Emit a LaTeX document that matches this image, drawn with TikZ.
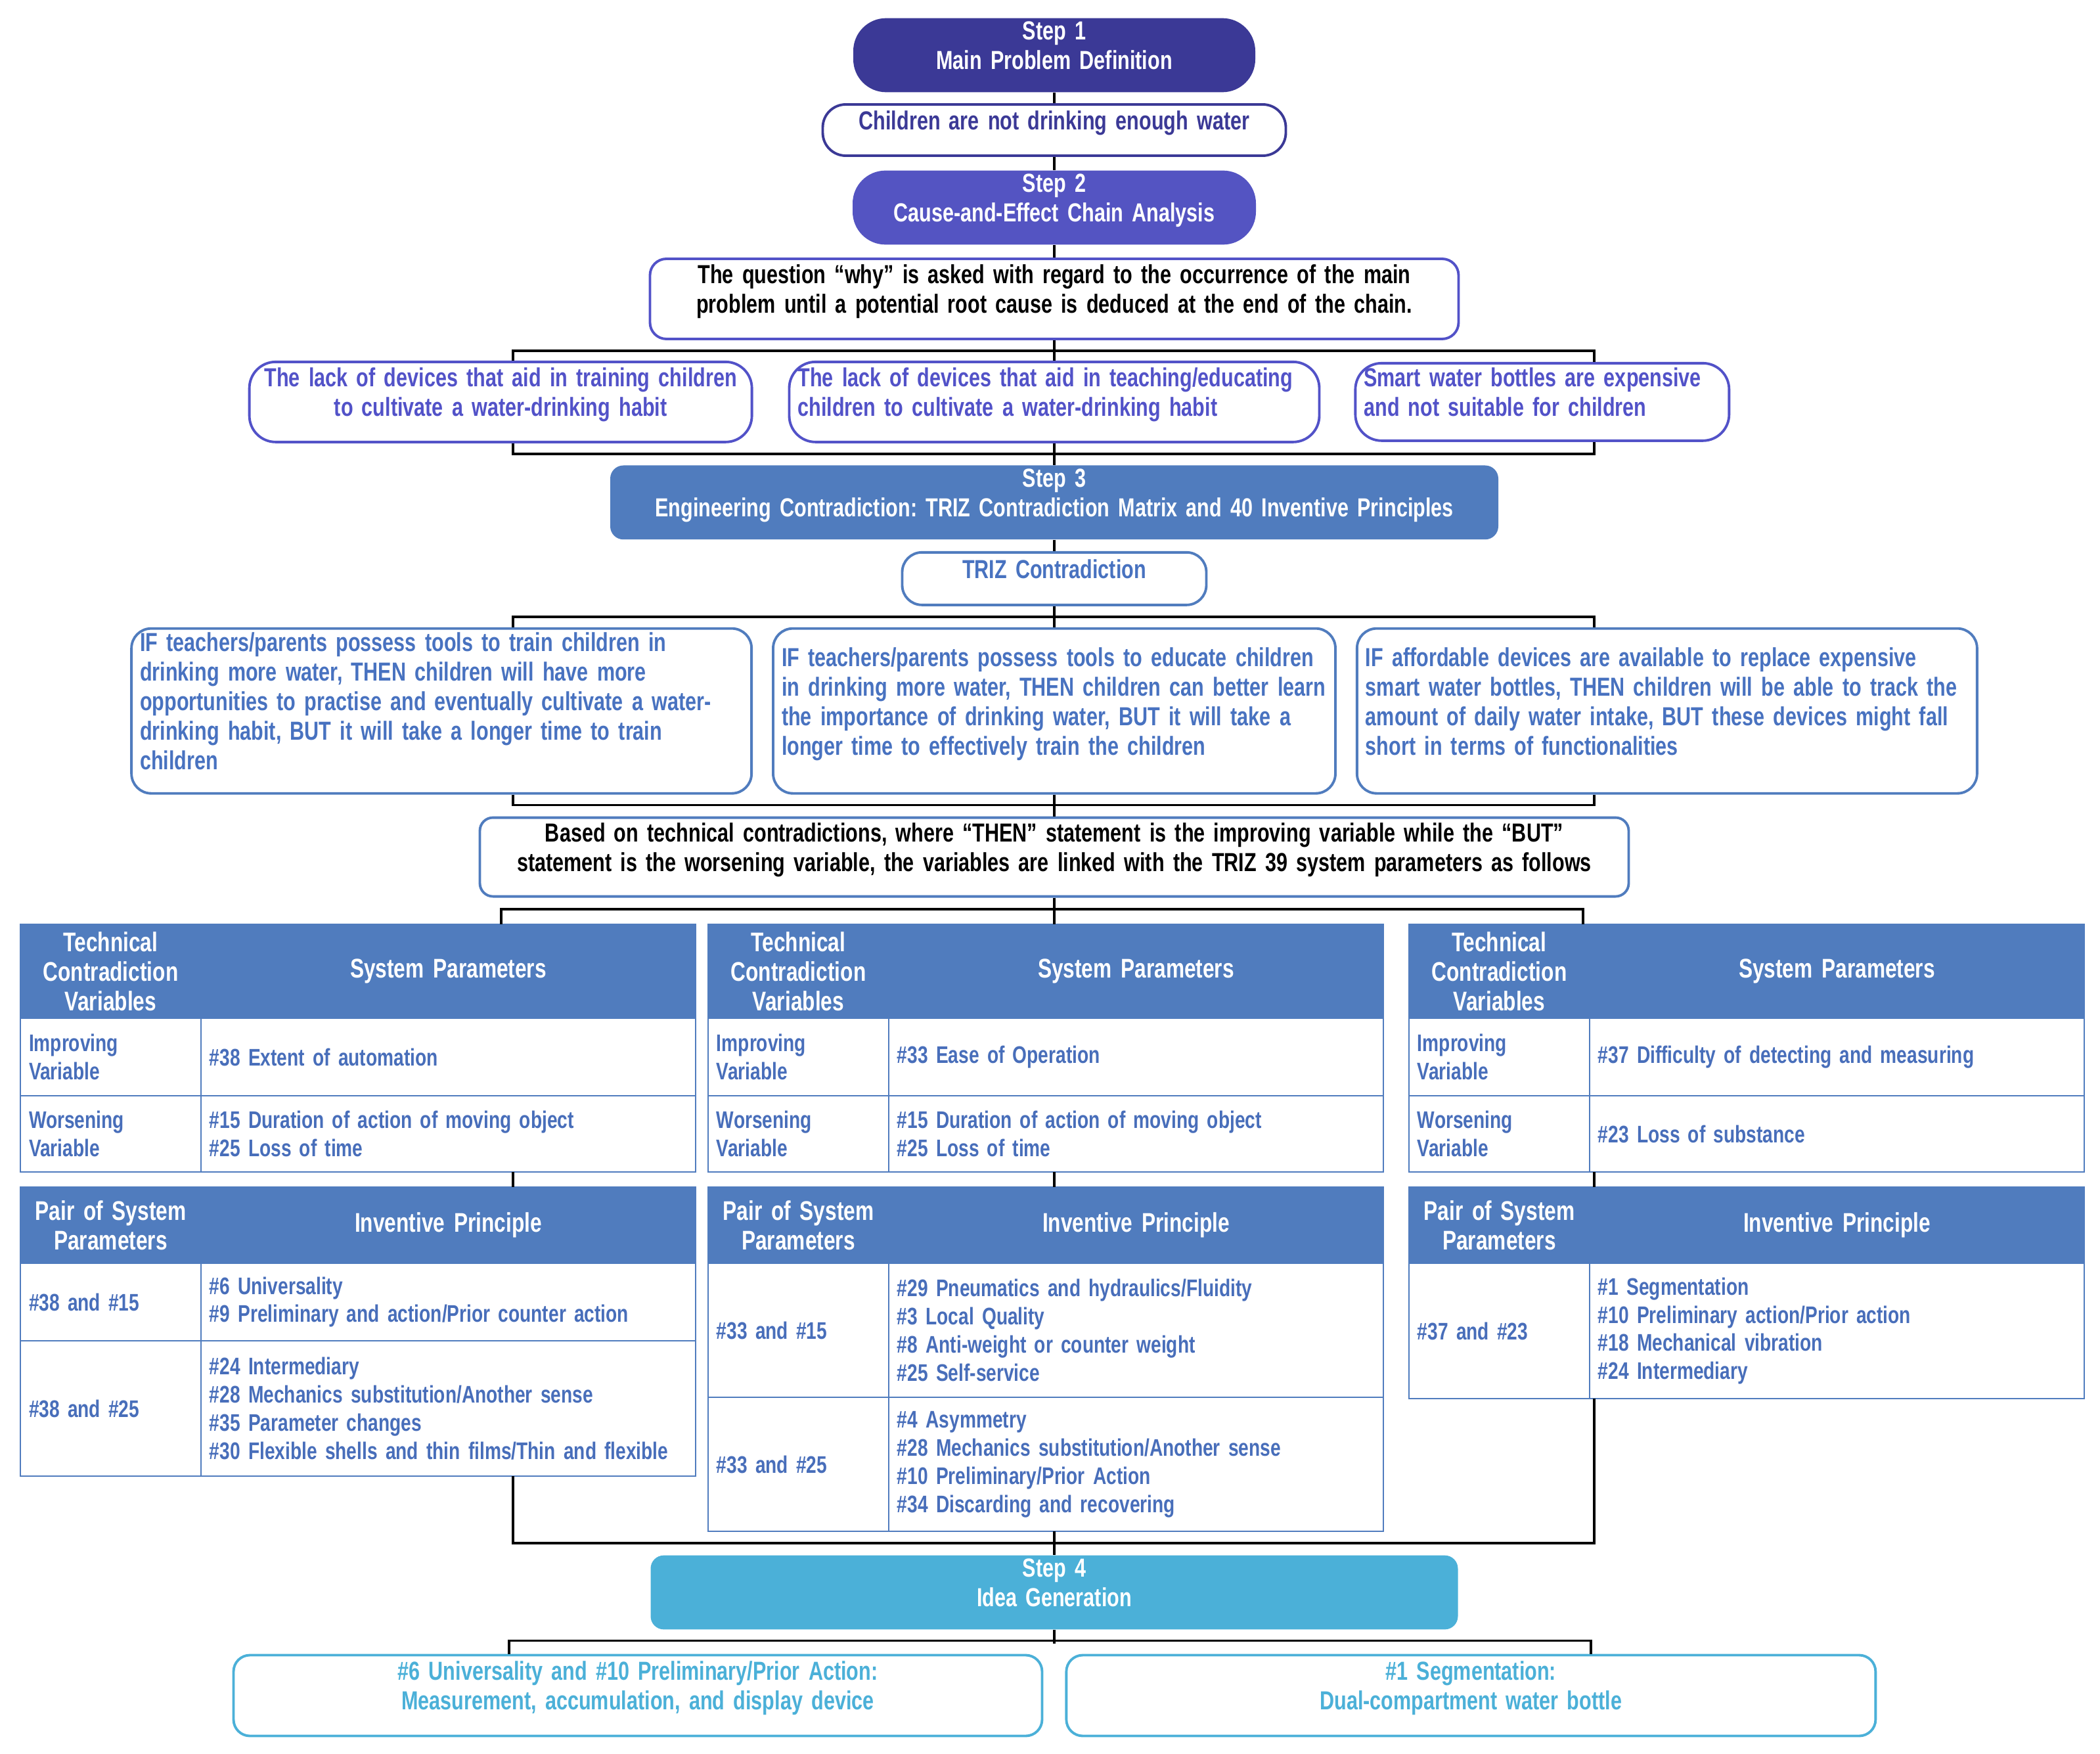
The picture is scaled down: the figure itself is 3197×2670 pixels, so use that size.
\documentclass[tikz,border=0pt]{standalone}
\usepackage{fontspec}
\setmainfont{Liberation Sans}[FakeStretch=0.77]
\usetikzlibrary{positioning}
\frenchspacing
\hyphenpenalty=10000
\exhyphenpenalty=10000

\definecolor{stepone}{RGB}{59,57,150}
\definecolor{steptwo}{RGB}{84,84,194}
\definecolor{causeblue}{RGB}{82,82,200}
\definecolor{stepthree}{RGB}{80,124,190}
\definecolor{ifblue}{RGB}{72,114,192}
\definecolor{celltext}{RGB}{72,110,186}
\definecolor{stepfour}{RGB}{75,176,216}

\newcommand{\boxfont}{\fontsize{11.3pt}{12.8pt}\selectfont\bfseries}
\newcommand{\headfont}{\fontsize{11.7pt}{12.8pt}\selectfont\bfseries}
\newcommand{\cellfont}{\fontsize{10.4pt}{12.2pt}\selectfont\bfseries}

\tikzstyle{stepbase} = [rectangle, text=white, align=center, inner xsep=1.3mm, inner ysep=0.5mm, font=\boxfont, execute at end node={\rule[-3mm]{0pt}{3mm}}]
\tikzstyle{stepa} = [stepbase, fill=stepone, rounded corners=5mm]
\tikzstyle{stepb} = [stepbase, fill=steptwo, rounded corners=5mm]
\tikzstyle{stepc} = [stepbase, fill=stepthree, rounded corners=2mm]
\tikzstyle{stepd} = [stepbase, fill=stepfour, rounded corners=2mm]
\tikzstyle{tbox} = [rectangle, draw, fill=white, line width=1.1pt, inner xsep=1.3mm, inner ysep=0.5mm, font=\boxfont, execute at end node={\rule[-3mm]{0pt}{3mm}}]
\tikzstyle{probbox} = [tbox, draw=stepone, text=stepone, align=center, rounded corners=3.5mm]
\tikzstyle{whybox} = [tbox, draw=causeblue, text=black, align=center, rounded corners=2.5mm]
\tikzstyle{causebox} = [tbox, draw=causeblue, text=causeblue, align=left, rounded corners=4mm]
\tikzstyle{ifbox} = [tbox, draw=stepthree, text=ifblue, align=left, rounded corners=3mm]
\tikzstyle{basedbox} = [tbox, draw=stepthree, text=black, align=center, rounded corners=2mm]
\tikzstyle{ideabox} = [tbox, draw=stepfour, text=stepfour, align=center, rounded corners=2.5mm]
\tikzstyle{cell} = [rectangle, draw=stepthree, line width=0.8pt, outer sep=0pt, inner xsep=1.3mm, inner ysep=0.5mm]
\tikzstyle{hcell} = [cell, fill=stepthree, text=white, align=center, font=\headfont]
\tikzstyle{bcell} = [cell, fill=white, text=celltext, align=left, font=\cellfont]
\tikzstyle{lcol} = [minimum width=27.5mm, text width=24.9mm]
\tikzstyle{rcol} = [minimum width=75.3mm, text width=72.7mm]
\tikzstyle{line} = [draw, line width=1pt]

\begin{document}
\begin{tikzpicture}[x=0.1mm, y=-0.1mm]
    \useasboundingbox (0,0) rectangle (3197,2670);

    % step 1 and 2
    \node[stepa, minimum width=61.2mm, minimum height=11mm, text width=58.6mm] (step1) at (1605,84) {Step 1\\Main Problem Definition};
    \node[probbox, minimum width=70.5mm, minimum height=7.8mm, text width=67.9mm, below=1.6mm of step1] (problem) {Children are not drinking enough water};
    \node[stepb, minimum width=61.4mm, minimum height=11mm, text width=58.8mm, below=2mm of problem] (step2) {Step 2\\Cause-and-Effect Chain Analysis};
    \node[whybox, minimum width=123.1mm, minimum height=12.2mm, text width=120.5mm, below=1.9mm of step2] (why) {The question “why” is asked with regard to the occurrence of the main\\problem until a potential root cause is deduced at the end of the chain.};

    % causes
    \node[causebox, minimum width=80.7mm, minimum height=12.2mm, text width=78.1mm, below=3.1mm of why] (causeB) {The lack of devices that aid in teaching/educating\\children to cultivate a water-drinking habit};
    \node[causebox, align=center, minimum width=76.5mm, minimum height=12.2mm, text width=73.9mm, left=5.3mm of causeB] (causeA) {The lack of devices that aid in training children\\to cultivate a water-drinking habit};
    \node[causebox, minimum width=56.9mm, minimum height=11.8mm, text width=54.3mm, right=5.1mm of causeB] (causeC) {Smart water bottles are expensive\\and not suitable for children};

    % step 3
    \node[stepc, minimum width=135.2mm, minimum height=11mm, text width=132.6mm, below=3.3mm of causeB] (step3) {Step 3\\Engineering Contradiction: TRIZ Contradiction Matrix and 40 Inventive Principles};
    \node[ifbox, align=center, minimum width=46.3mm, minimum height=8mm, text width=43.7mm, below=1.7mm of step3] (triz) {TRIZ Contradiction};

    \node[ifbox, minimum width=85.6mm, minimum height=25.1mm, text width=83mm, below=3.2mm of triz] (ifB) {IF teachers/parents possess tools to educate children\\in drinking more water, THEN children can better learn\\the importance of drinking water, BUT it will take a\\longer time to effectively train the children};
    \node[ifbox, minimum width=94.4mm, minimum height=25.1mm, text width=91.8mm, left=2.9mm of ifB] (ifA) {IF teachers/parents possess tools to train children in\\drinking more water, THEN children will have more\\opportunities to practise and eventually cultivate a water-\\drinking habit, BUT it will take a longer time to train\\children};
    \node[ifbox, minimum width=94.4mm, minimum height=25.1mm, text width=91.8mm, right=2.9mm of ifB] (ifC) {IF affordable devices are available to replace expensive\\smart water bottles, THEN children will be able to track the\\amount of daily water intake, BUT these devices might fall\\short in terms of functionalities};

    \node[basedbox, minimum width=174.9mm, minimum height=12mm, text width=172.3mm, below=3.3mm of ifB] (based) {Based on technical contradictions, where “THEN” statement is the improving variable while the “BUT”\\statement is the worsening variable, the variables are linked with the TRIZ 39 system parameters as follows};

    % table 1
    \node[hcell, lcol, minimum height=14.3mm, anchor=north west] (t1hl) at (31,1407) {Technical\\Contradiction\\Variables};
    \node[hcell, rcol, minimum height=14.3mm, right=0pt of t1hl] (t1hr) {System Parameters};
    \node[bcell, lcol, minimum height=11.8mm, below=0pt of t1hl] (t1il) {Improving\\Variable};
    \node[bcell, rcol, minimum height=11.8mm, right=0pt of t1il] (t1ir) {\#38 Extent of automation};
    \node[bcell, lcol, minimum height=11.6mm, below=0pt of t1il] (t1wl) {Worsening\\Variable};
    \node[bcell, rcol, minimum height=11.6mm, right=0pt of t1wl] (t1wr) {\#15 Duration of action of moving object\\\#25 Loss of time};
    \node[hcell, lcol, minimum height=11.6mm, below=2.3mm of t1wl] (t1pl) {Pair of System\\Parameters};
    \node[hcell, rcol, minimum height=11.6mm, right=0pt of t1pl] (t1pr) {Inventive Principle};
    \node[bcell, lcol, minimum height=11.8mm, below=0pt of t1pl] (t1al) {\#38 and \#15};
    \node[bcell, rcol, minimum height=11.8mm, right=0pt of t1al] (t1ar) {\#6 Universality\\\#9 Preliminary and action/Prior counter action};
    \node[bcell, lcol, minimum height=20.6mm, below=0pt of t1al] (t1bl) {\#38 and \#25};
    \node[bcell, rcol, minimum height=20.6mm, right=0pt of t1bl] (t1br) {\#24 Intermediary\\\#28 Mechanics substitution/Another sense\\\#35 Parameter changes\\\#30 Flexible shells and thin films/Thin and flexible};

    % table 2
    \node[hcell, lcol, minimum height=14.3mm, right=1.9mm of t1hr] (t2hl) {Technical\\Contradiction\\Variables};
    \node[hcell, rcol, minimum height=14.3mm, right=0pt of t2hl] (t2hr) {System Parameters};
    \node[bcell, lcol, minimum height=11.8mm, below=0pt of t2hl] (t2il) {Improving\\Variable};
    \node[bcell, rcol, minimum height=11.8mm, right=0pt of t2il] (t2ir) {\#33 Ease of Operation};
    \node[bcell, lcol, minimum height=11.6mm, below=0pt of t2il] (t2wl) {Worsening\\Variable};
    \node[bcell, rcol, minimum height=11.6mm, right=0pt of t2wl] (t2wr) {\#15 Duration of action of moving object\\\#25 Loss of time};
    \node[hcell, lcol, minimum height=11.6mm, below=2.3mm of t2wl] (t2pl) {Pair of System\\Parameters};
    \node[hcell, rcol, minimum height=11.6mm, right=0pt of t2pl] (t2pr) {Inventive Principle};
    \node[bcell, lcol, minimum height=20.4mm, below=0pt of t2pl] (t2al) {\#33 and \#15};
    \node[bcell, rcol, minimum height=20.4mm, right=0pt of t2al] (t2ar) {\#29 Pneumatics and hydraulics/Fluidity\\\#3 Local Quality\\\#8 Anti-weight or counter weight\\\#25 Self-service};
    \node[bcell, lcol, minimum height=20.4mm, below=0pt of t2al] (t2bl) {\#33 and \#25};
    \node[bcell, rcol, minimum height=20.4mm, right=0pt of t2bl] (t2br) {\#4 Asymmetry\\\#28 Mechanics substitution/Another sense\\\#10 Preliminary/Prior Action\\\#34 Discarding and recovering};

    % table 3
    \node[hcell, lcol, minimum height=14.3mm, right=3.9mm of t2hr] (t3hl) {Technical\\Contradiction\\Variables};
    \node[hcell, rcol, minimum height=14.3mm, right=0pt of t3hl] (t3hr) {System Parameters};
    \node[bcell, lcol, minimum height=11.8mm, below=0pt of t3hl] (t3il) {Improving\\Variable};
    \node[bcell, rcol, minimum height=11.8mm, right=0pt of t3il] (t3ir) {\#37 Difficulty of detecting and measuring};
    \node[bcell, lcol, minimum height=11.6mm, below=0pt of t3il] (t3wl) {Worsening\\Variable};
    \node[bcell, rcol, minimum height=11.6mm, right=0pt of t3wl] (t3wr) {\#23 Loss of substance};
    \node[hcell, lcol, minimum height=11.6mm, below=2.3mm of t3wl] (t3pl) {Pair of System\\Parameters};
    \node[hcell, rcol, minimum height=11.6mm, right=0pt of t3pl] (t3pr) {Inventive Principle};
    \node[bcell, lcol, minimum height=20.6mm, below=0pt of t3pl] (t3al) {\#37 and \#23};
    \node[bcell, rcol, minimum height=20.6mm, right=0pt of t3al] (t3ar) {\#1 Segmentation\\\#10 Preliminary action/Prior action\\\#18 Mechanical vibration\\\#24 Intermediary};

    % step 4
    \node[stepd, minimum width=122.9mm, minimum height=11mm, text width=120.3mm] (step4) at (1605,2424) {Step 4\\Idea Generation};
    \node[ideabox, minimum width=123.1mm, minimum height=12.3mm, text width=120.5mm] (ideaA) at (971,2581) {\#6 Universality and \#10 Preliminary/Prior Action:\\Measurement, accumulation, and display device};
    \node[ideabox, minimum width=123.2mm, minimum height=12.3mm, text width=120.6mm, right=3.3mm of ideaA] (ideaB) {\#1 Segmentation:\\Dual-compartment water bottle};

    % connectors
    \coordinate (colL) at (781,0);
    \coordinate (colM) at (1605,0);
    \coordinate (colR) at (2427,0);
    \coordinate (tabL) at (763,0);
    \coordinate (tabR) at (2410,0);
    \coordinate (ideaL) at (775,0);
    \coordinate (ideaR) at (2422,0);

    \path[line] (step1) -- (problem);
    \path[line] (problem) -- (step2);
    \path[line] (step2) -- (why);
    \path[line] (why) -- (causeB);
    \path[line] (causeA.north -| colL) -- ++(0,-15) -| (causeC.north -| colR);
    \path[line] (causeA.south -| colL) -- ++(0,16) -| (causeC.south -| colR);
    \path[line] (causeB) -- (step3);
    \path[line] (step3) -- (triz);
    \path[line] (triz) -- (ifB);
    \path[line] (ifA.north -| colL) -- ++(0,-16) -| (ifC.north -| colR);
    \path[line] (ifA.south -| colL) -- ++(0,16) -| (ifC.south -| colR);
    \path[line] (ifB) -- (based);
    \path[line] (based.south) -- (based.south |- t2hr.north);
    \path[line] (t1hr.north -| tabL) -- ++(0,-23) -| (t3hl.north -| tabR);
    \path[line] (t1wr.south -| colL) -- (t1pr.north -| colL);
    \path[line] (t2wr.south -| colM) -- (t2pr.north -| colM);
    \path[line] (t3wr.south -| colR) -- (t3pr.north -| colR);
    \path[line] (t1br.south -| colL) -- ++(0,102) -| (t3ar.south -| colR);
    \path[line] (t2br.south -| colM) -- (step4.north);
    \path[line] (step4.south) -- ++(0,21);
    \path[line] (ideaA.north -| ideaL) -- ++(0,-20) -| (ideaB.north -| ideaR);
\end{tikzpicture}
\end{document}
